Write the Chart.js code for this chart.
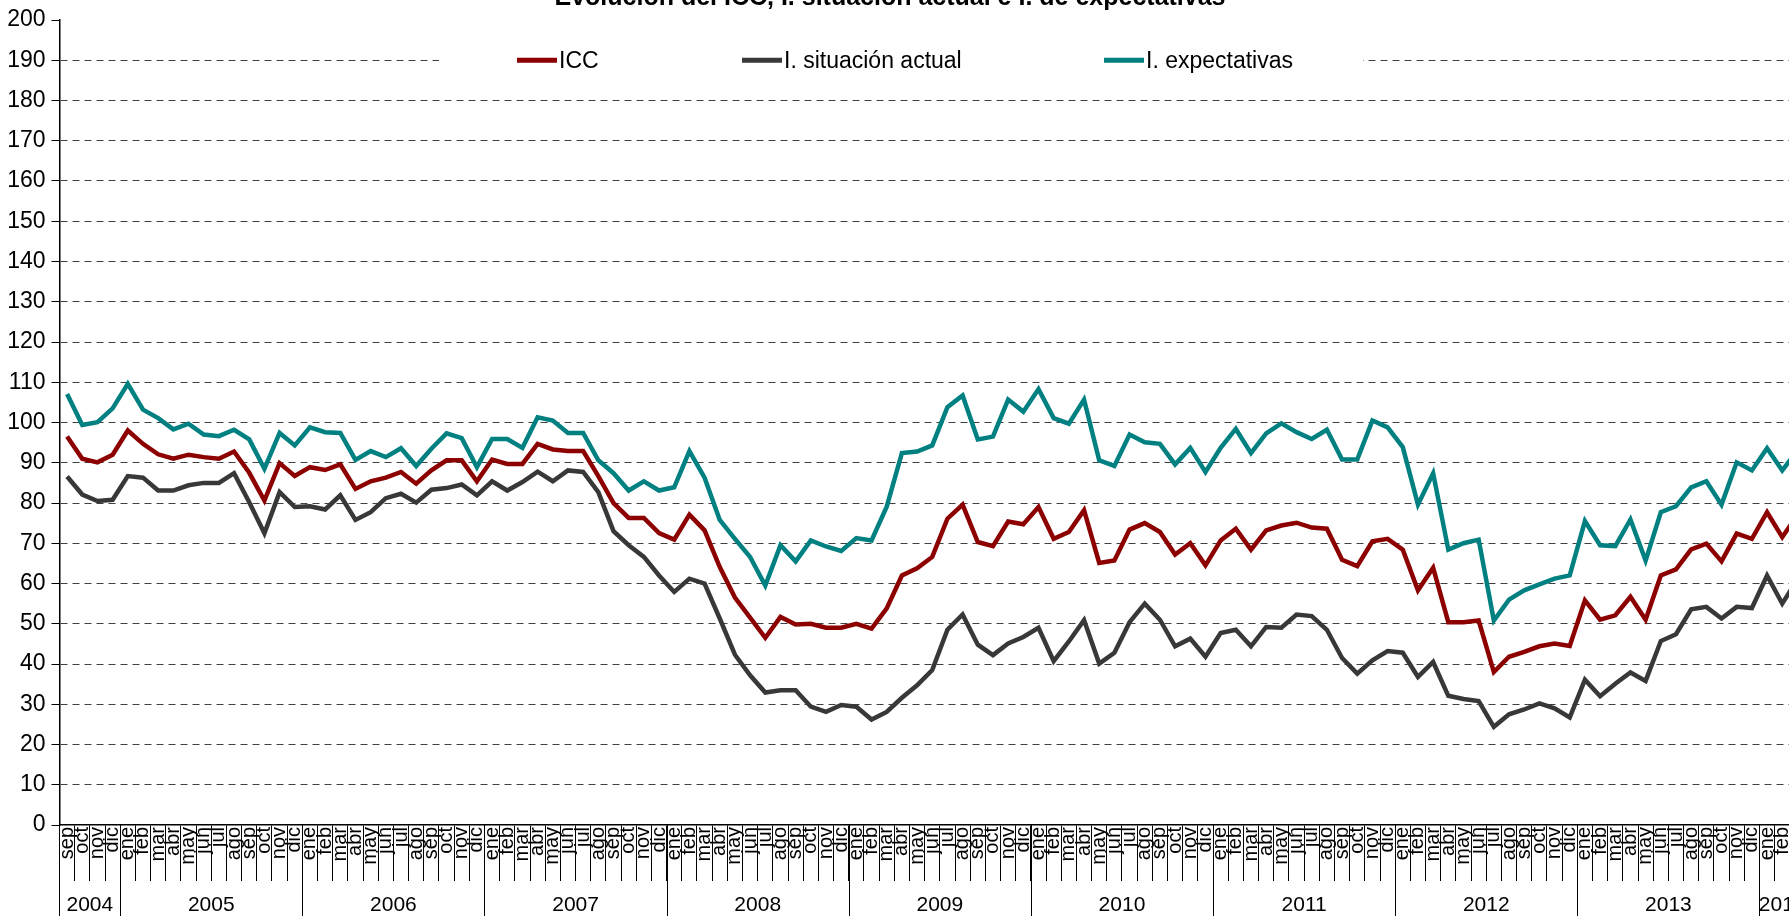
<!DOCTYPE html>
<html lang="es">
<head>
    <meta charset="UTF-8">
    <title>Evolución del ICC</title>
    <script src="https://cdn.jsdelivr.net/npm/chart.js"></script>
    <style>
        html, body {
            margin: 0;
            padding: 0;
            overflow: hidden;
            background: #fff;
        }
        .chart-container {
            position: relative;
            width: 1805px; /* plot runs a little past the window, like the original */
            height: 916px;
        }
    </style>
</head>
<body>
    <div class="chart-container">
        <canvas id="icc-chart"></canvas>
    </div>

    <script>
        // Years on the lower axis row and how many months each one has (sep 2004 - mar 2014)
        const years = ['2004', '2005', '2006', '2007', '2008', '2009', '2010', '2011', '2012', '2013', '2014'];
        const monthsPerYear = [4, 12, 12, 12, 12, 12, 12, 12, 12, 12, 3];
        const monthNames = ['ene', 'feb', 'mar', 'abr', 'may', 'jun', 'jul', 'ago', 'sep', 'oct', 'nov', 'dic'];

        // ICC
        const icc = [
            96.5, 91.0, 90.1, 92.0,
            98.0, 94.7, 92.1, 91.0, 92.0, 91.4, 91.0, 92.8, 87.5, 80.6, 89.9, 86.7,
            88.9, 88.2, 89.6, 83.5, 85.4, 86.3, 87.7, 84.8, 88.1, 90.6, 90.6, 85.4,
            90.8, 89.7, 89.7, 94.7, 93.3, 92.9, 92.9, 86.7, 80.0, 76.3, 76.3, 72.5,
            70.9, 77.1, 73.2, 64.1, 56.5, 51.5, 46.5, 51.7, 49.8, 50.0, 49.0, 49.0,
            50.0, 48.8, 53.8, 62.0, 63.8, 66.6, 76.1, 79.6, 70.3, 69.3, 75.4, 74.7,
            79.0, 71.1, 72.8, 78.2, 65.1, 65.7, 73.4, 75.0, 72.8, 67.2, 70.0, 64.5,
            70.7, 73.6, 68.4, 73.2, 74.4, 75.1, 73.9, 73.6, 65.9, 64.3, 70.5, 71.1,
            68.4, 58.3, 63.9, 50.4, 50.4, 50.8, 38.0, 41.8, 43.0, 44.4, 45.1, 44.5,
            55.8, 51.0, 52.1, 56.7, 51.0, 62.0, 63.5, 68.5, 69.9, 65.5, 72.4, 71.1,
            77.7, 71.5, 77.0
        ];

        // I. situación actual
        const situacionActual = [
            86.6, 82.1, 80.5, 80.8,
            86.7, 86.3, 83.1, 83.1, 84.4, 85.0, 85.0, 87.4, 80.2, 72.5, 82.7, 79.0,
            79.2, 78.4, 81.9, 75.8, 77.7, 81.2, 82.3, 80.1, 83.3, 83.7, 84.6, 81.9,
            85.4, 83.1, 85.2, 87.8, 85.4, 88.1, 87.7, 82.7, 73.0, 69.5, 66.6, 62.0,
            57.9, 61.2, 60.0, 51.3, 42.3, 37.2, 32.9, 33.5, 33.5, 29.4, 28.1, 29.8,
            29.4, 26.2, 28.1, 31.6, 34.7, 38.5, 48.5, 52.3, 44.8, 42.2, 45.1, 46.7,
            49.0, 40.7, 45.6, 50.9, 40.1, 42.8, 50.4, 55.0, 51.0, 44.4, 46.3, 41.8,
            47.7, 48.5, 44.4, 49.2, 49.0, 52.3, 51.9, 48.5, 41.5, 37.6, 40.9, 43.2,
            42.8, 36.8, 40.5, 32.1, 31.3, 30.8, 24.4, 27.5, 28.7, 30.2, 29.0, 26.7,
            36.1, 32.0, 35.1, 37.9, 35.8, 45.7, 47.4, 53.6, 54.2, 51.3, 54.2, 53.9,
            62.0, 55.0, 61.0
        ];

        // I. expectativas
        const expectativas = [
            107.1, 99.4, 100.1, 103.5,
            109.6, 103.2, 101.1, 98.3, 99.7, 97.0, 96.6, 98.2, 95.8, 88.5, 97.4, 94.3,
            98.8, 97.6, 97.4, 90.7, 92.9, 91.4, 93.6, 89.2, 93.5, 97.3, 96.1, 88.9,
            95.9, 95.9, 93.7, 101.3, 100.5, 97.4, 97.4, 90.6, 87.4, 83.1, 85.4, 83.1,
            83.9, 92.9, 86.3, 75.8, 71.1, 66.6, 59.5, 69.5, 65.5, 70.7, 69.2, 68.1,
            71.3, 70.7, 79.1, 92.4, 92.8, 94.3, 103.8, 106.7, 95.8, 96.5, 105.7, 102.7,
            108.3, 101.1, 99.7, 105.7, 90.6, 89.2, 97.0, 95.1, 94.7, 89.6, 93.7, 87.7,
            93.7, 98.4, 92.4, 97.3, 99.8, 97.6, 95.9, 98.2, 90.8, 90.8, 100.5, 98.8,
            93.9, 79.6, 87.4, 68.4, 70.0, 70.9, 50.8, 56.0, 58.3, 59.8, 61.2, 62.0,
            75.5, 69.5, 69.3, 75.9, 65.7, 77.7, 79.2, 83.9, 85.4, 79.6, 90.1, 88.1,
            93.6, 88.1, 93.0
        ];

        // Month labels for every point (the first year starts in september)
        const months = [];
        years.forEach((year, i) => {
            const start = i === 0 ? 12 - monthsPerYear[i] : 0;
            for (let m = 0; m < monthsPerYear[i]; m++) {
                months.push(monthNames[start + m]);
            }
        });

        const FONT = 'Arial, "Liberation Sans", sans-serif';
        Chart.defaults.font.family = FONT;
        Chart.defaults.color = '#000';

        // Title (cut off at the top), legend sitting on the 190 line, year row under the months
        const decorPlugin = {
            id: 'decor',
            beforeDatasetsDraw(chart) {
                const ctx = chart.ctx;
                const y = chart.scales.y;
                const yLeg = y.getPixelForValue(190);
                ctx.save();
                ctx.fillStyle = '#fff';
                ctx.fillRect(439, yLeg - 14, 924, 28);
                const items = [
                    { x: 517, text: 'ICC', color: chart.data.datasets[0].borderColor },
                    { x: 742, text: 'I. situación actual', color: chart.data.datasets[1].borderColor },
                    { x: 1104, text: 'I. expectativas', color: chart.data.datasets[2].borderColor }
                ];
                ctx.font = '23px ' + FONT;
                ctx.textBaseline = 'middle';
                ctx.textAlign = 'left';
                items.forEach(it => {
                    ctx.strokeStyle = it.color;
                    ctx.lineWidth = 5;
                    ctx.beginPath();
                    ctx.moveTo(it.x, yLeg);
                    ctx.lineTo(it.x + 40, yLeg);
                    ctx.stroke();
                    ctx.fillStyle = '#000';
                    ctx.fillText(it.text, it.x + 42, yLeg + 1);
                });
                ctx.restore();
            },
            afterDraw(chart) {
                const ctx = chart.ctx;
                const x = chart.scales.x;
                const area = chart.chartArea;
                const band = x.getPixelForValue(1) - x.getPixelForValue(0);
                ctx.save();

                ctx.font = 'bold 25px ' + FONT;
                ctx.textAlign = 'center';
                ctx.textBaseline = 'alphabetic';
                ctx.fillStyle = '#000';
                ctx.fillText('Evolución del ICC, I. situación actual e I. de expectativas', 890, 5);

                ctx.font = '21px ' + FONT;
                ctx.textBaseline = 'middle';
                ctx.strokeStyle = '#000';
                ctx.lineWidth = 1;
                let idx = 0;
                years.forEach((year, i) => {
                    const left = x.getPixelForValue(idx) - band / 2;
                    const right = left + monthsPerYear[i] * band;
                    ctx.beginPath();
                    ctx.moveTo(Math.round(left) + 0.5, area.bottom);
                    ctx.lineTo(Math.round(left) + 0.5, chart.height);
                    ctx.stroke();
                    ctx.fillText(year, (left + right) / 2, 905);
                    idx += monthsPerYear[i];
                });
                ctx.restore();
            }
        };

        const ctx = document.getElementById('icc-chart').getContext('2d');
        new Chart(ctx, {
            type: 'line',
            data: {
                labels: months,
                datasets: [
                    { label: 'ICC', data: icc, borderColor: '#8c0000' },
                    { label: 'I. situación actual', data: situacionActual, borderColor: '#383838' },
                    { label: 'I. expectativas', data: expectativas, borderColor: '#008080' }
                ]
            },
            options: {
                responsive: true,
                maintainAspectRatio: false,
                animation: false,
                layout: { padding: { top: 20, bottom: 35, left: 0, right: 0 } },
                elements: {
                    line: { borderWidth: 4.5, tension: 0, fill: false },
                    point: { radius: 0, hoverRadius: 0 }
                },
                plugins: {
                    legend: { display: false },
                    tooltip: { enabled: false }
                },
                scales: {
                    x: {
                        offset: true,
                        grid: {
                            offset: true,
                            drawOnChartArea: false,
                            tickLength: 56,
                            color: '#000',
                            lineWidth: 1
                        },
                        border: { color: '#000', width: 1.5 },
                        ticks: {
                            autoSkip: false,
                            minRotation: 90,
                            maxRotation: 90,
                            padding: -54,
                            font: { size: 20 }
                        },
                        afterFit: scale => { scale.height = 56; }
                    },
                    y: {
                        min: 0,
                        max: 200,
                        ticks: { stepSize: 10, padding: 6, font: { size: 23 } },
                        grid: {
                            color: c => (c.tick.value === 0 || c.tick.value === 200) ? 'transparent' : '#404040',
                            tickColor: '#000',
                            tickLength: 8,
                            tickBorderDash: [],
                            lineWidth: 1
                        },
                        border: { color: '#000', width: 1.5, dash: [7, 5] },
                        afterFit: scale => { scale.width = 59.5; }
                    }
                }
            },
            plugins: [decorPlugin]
        });
    </script>
</body>
</html>
